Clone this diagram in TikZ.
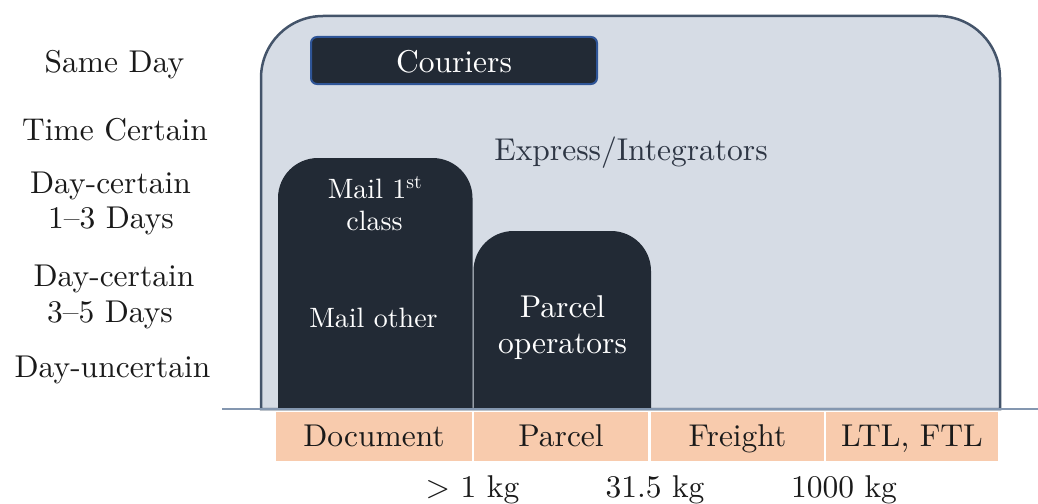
\documentclass[tikz,border=0pt]{standalone}
\usepackage{fontspec}
\setmainfont{lmroman10-regular.otf}
\begin{document}
\definecolor{bigfill}{HTML}{D6DCE5}
\definecolor{bigdraw}{HTML}{44546A}
\definecolor{darkbox}{HTML}{222A35}
\definecolor{courdraw}{HTML}{2F5597}
\definecolor{peach}{HTML}{F8CBAD}
\definecolor{baseln}{HTML}{8497B0}
\definecolor{txt}{HTML}{1A1A1A}
\definecolor{exptxt}{HTML}{2E3644}
\begin{tikzpicture}[x=1pt,y=-1pt,
  lbl/.style={font=\fontsize{31.5}{34}\selectfont, text=txt, inner sep=0pt, anchor=base},
  wlbl/.style={font=\fontsize{31.5}{34}\selectfont, text=white, inner sep=0pt, anchor=base},
  slbl/.style={font=\fontsize{28}{32}\selectfont, text=white, inner sep=0pt, anchor=base},
  cat/.style={fill=peach, draw=none, minimum height=49pt, inner sep=0pt}]
\useasboundingbox (0,0) rectangle (1038,503);
% big express box
\filldraw[fill=bigfill, draw=bigdraw, line width=2.5pt]
  (261,409) [rounded corners=62] -- (261,16) -- (1000,16) [sharp corners] -- (1000,409) -- cycle;
% mail box
\fill[darkbox] (278,409) [rounded corners=40] -- (278,158) -- (472.5,158) [sharp corners] -- (472.5,409) -- cycle;
% parcel box
\fill[darkbox] (473.5,409) [rounded corners=40] -- (473.5,231) -- (651,231) [sharp corners] -- (651,409) -- cycle;
% base line
\draw[baseln, line width=1.5pt] (222,409) -- (1038,409);
% couriers
\node[fill=darkbox, draw=courdraw, line width=2pt, rounded corners=6, minimum width=286pt, minimum height=47pt, inner sep=0pt] (cour) at (454,60.5) {};
\node[wlbl] (court) at (454,73) {Couriers};
\node[lbl, text=exptxt] (expr) at (631,160) {Express/Integrators};
% dark box labels
\node[slbl] (mail1) at (375,198) {Mail 1\textsuperscript{st}};
\node[slbl] (mail2) at (374.5,230) {class};
\node[slbl] (mailo) at (373.5,327) {Mail other};
\node[wlbl] (parc1) at (562.5,317) {Parcel};
\node[wlbl] (parc2) at (562.5,353) {operators};
% left labels
\node[lbl] (sd) at (114.5,72.5) {Same Day};
\node[lbl] (tc) at (115,140) {Time Certain};
\node[lbl] (dc1a) at (110.5,193) {Day-certain};
\node[lbl] (dc1b) at (111,228) {1–3 Days};
\node[lbl] (dc3a) at (114,286) {Day-certain};
\node[lbl] (dc3b) at (110,322) {3–5 Days};
\node[lbl] (du) at (112.5,377) {Day-uncertain};
% categories
\node[cat, minimum width=196pt] (doc) at (374,436.5) {};
\node[cat, minimum width=174pt] (par) at (561,436.5) {};
\node[cat, minimum width=173pt] (fre) at (737.5,436.5) {};
\node[cat, minimum width=172pt] (ltl) at (912,436.5) {};
\node[lbl] (doct) at (doc.center |- 0,446) {Document};
\node[lbl] (part) at (par.center |- 0,446) {Parcel};
\node[lbl] (fret) at (fre.center |- 0,446) {Freight};
\node[lbl] (ltlt) at (ltl.center |- 0,446) {LTL, FTL};
% weights
\node[lbl] (w1) at (472.5,497) {> 1 kg};
\node[lbl] (w2) at (655,497) {31.5 kg};
\node[lbl] (w3) at (844,497) {1000 kg};
\end{tikzpicture}
\end{document}
